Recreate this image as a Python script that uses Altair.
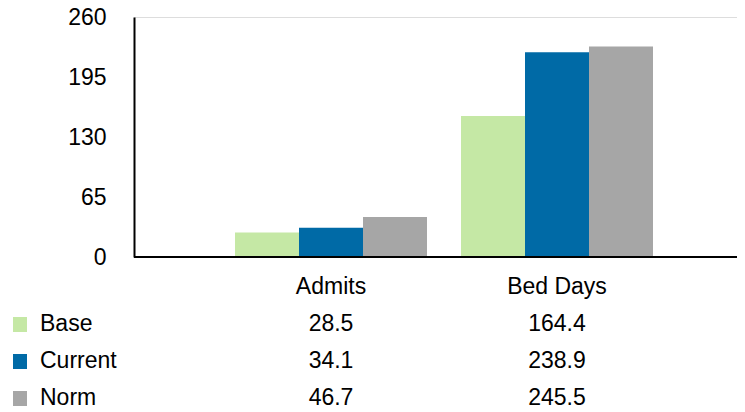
import altair as alt
import pandas as pd

categories = ["Admits", "Bed Days"]
series = ["Base", "Current", "Norm"]
base_values = [28.5, 164.4]
current_values = [34.1, 238.9]
norm_values = [46.7, 245.5]
colors = ["#C5E8A5", "#006AA6", "#A6A6A6"]
tick_labels = [0, 65, 130, 195, 260]
scale_max = 280  # the bars are drawn against a 0-280 scale in the reference

rows = []
for s, vals in zip(series, [base_values, current_values, norm_values]):
    for c, v in zip(categories, vals):
        rows.append({"category": c, "series": s, "value": v})
df = pd.DataFrame(rows)

FONT = "Liberation Sans"
FS = 23
PLOT_W = 603
PLOT_H = 240

tick_values = [t * scale_max / tick_labels[-1] for t in tick_labels]

x_enc = alt.X(
    "category:N",
    sort=categories,
    scale=alt.Scale(domain=categories, range=[84, 536], paddingInner=0, paddingOuter=0),
    axis=None,
)

bars = alt.Chart(df).mark_bar(size=64).encode(
    x=x_enc,
    xOffset=alt.XOffset("series:N", sort=series,
                        scale=alt.Scale(domain=series, paddingInner=0, paddingOuter=0.2656)),
    y=alt.Y("value:Q",
            scale=alt.Scale(domain=[0, scale_max], nice=False, zero=True),
            axis=alt.Axis(values=tick_values,
                          labelExpr=f"format(round(datum.value*{tick_labels[-1]}/{scale_max}), 'd')",
                          ticks=False, grid=False, title=None, domainColor="black",
                          domainWidth=2, labelFont=FONT, labelFontSize=FS,
                          labelColor="black", labelPadding=28)),
    color=alt.Color("series:N", sort=series,
                    scale=alt.Scale(domain=series, range=colors), legend=None),
)

baseline_rule = alt.Chart(df).transform_filter(
    (alt.datum.series == "Base") & (alt.datum.category == categories[0])
).mark_rule(color="black", strokeWidth=2).encode(
    x=alt.value(0), x2=alt.value(PLOT_W), y=alt.value(PLOT_H)
)

header = alt.Chart(df).transform_filter(alt.datum.series == "Base").mark_text(
    font=FONT, fontSize=FS, color="black", baseline="alphabetic", align="center"
).encode(x=x_enc, y=alt.value(277), text="category:N")

layers = [bars, baseline_rule, header]
row_baseline0 = 314
row_step = 37
for i, (s, col) in enumerate(zip(series, colors)):
    yb = row_baseline0 + i * row_step
    sub = alt.Chart(df).transform_filter(alt.datum.series == s)
    layers.append(
        sub.transform_filter(alt.datum.category == categories[0]).mark_rect(color=col).encode(
            x=alt.value(-121), x2=alt.value(-107), y=alt.value(yb - 14), y2=alt.value(yb + 1)
        )
    )
    layers.append(
        sub.transform_filter(alt.datum.category == categories[0]).mark_text(
            font=FONT, fontSize=FS, color="black", baseline="alphabetic", align="left"
        ).encode(x=alt.value(-94), y=alt.value(yb), text="series:N")
    )
    layers.append(
        sub.mark_text(
            font=FONT, fontSize=FS, color="black", baseline="alphabetic", align="center"
        ).encode(x=x_enc, y=alt.value(yb), text=alt.Text("value:Q", format=".1f"))
    )

chart = alt.layer(*layers).properties(
    width=PLOT_W,
    height=PLOT_H,
    autosize=alt.AutoSizeParams(type="none"),
    padding={"left": 126, "top": 9, "right": 0, "bottom": 155},
).configure_view(stroke=None).configure(background="white")

chart.save("out.html", embed_options={"renderer": "svg", "actions": False})
